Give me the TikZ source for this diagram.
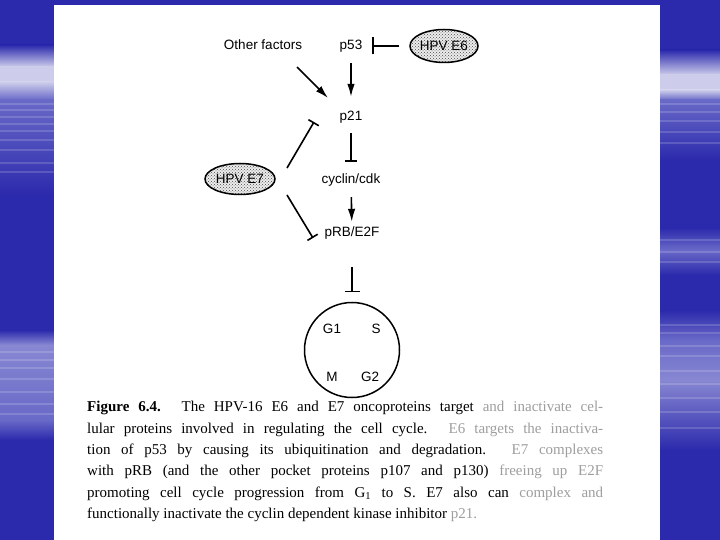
\documentclass[tikz,border=0pt]{standalone}
\usepackage{fontspec}
\setmainfont{Liberation Serif}
\setsansfont{Liberation Sans}
\usetikzlibrary{arrows.meta,shapes.geometric,patterns,calc}
\definecolor{bgblue}{RGB}{44,42,172}
\definecolor{bglight}{RGB}{205,205,235}
\definecolor{bgmid}{RGB}{105,105,200}
\definecolor{bgmidb}{RGB}{135,135,210}
\definecolor{fade}{gray}{0.62}
\begin{document}
\begin{tikzpicture}[x=1pt,y=-1pt,
  lbl/.style={font=\sffamily\fontsize{13.5}{15}\selectfont, inner sep=0pt, text height=9.7pt, text depth=2.7pt},
  hpv/.style={ellipse, draw, line width=1.5pt, minimum width=68pt, minimum height=33pt, inner sep=0pt,
    font=\sffamily\fontsize{13.5}{15}\selectfont, preaction={fill=gray!15},
    pattern=crosshatch dots, pattern color=gray!60!black},
  act/.style={line width=1.6pt, -{Latex[length=13pt,width=7.5pt]}},
  inh/.style={line width=1.6pt, -{Bar[width=12pt]}},
  streak/.style={white, line width=2pt, opacity=0.16},
  ]
\useasboundingbox (0,0) rectangle (720,540);
% background
\fill[bgblue] (0,0) rectangle (720,540);
\foreach \ya/\yb/\ca/\cb in {
  45/67/bgblue/bglight, 67/82/bglight/bglight, 82/100/bglight/bgmid,
  100/195/bgmid/bgblue, 330/345/bgblue/bgmidb, 345/420/bgmidb/bgmid, 420/440/bgmid/bgblue}
  {\shade[top color=\ca, bottom color=\cb] (0,\ya) rectangle (54,\yb);}
\foreach \ya/\yb/\ca/\cb in {
  50/75/bgblue/bglight, 75/90/bglight/bglight, 90/100/bglight/bgmid,
  100/160/bgmid/bgblue, 228/250/bgblue/bgmid, 250/275/bgmid/bgblue,
  310/340/bgblue/bgmid, 340/380/bgmid/bgmidb, 380/450/bgmidb/bgblue}
  {\shade[top color=\ca, bottom color=\cb] (660,\ya) rectangle (720,\yb);}
\foreach \y in {104,110,117,124,131,140,150,163,172}
  {\draw[streak] (0,\y) -- (54,\y);}
\foreach \y in {352,360,368,379,392,404,414}
  {\draw[streak] (0,\y) -- (54,\y);}
\foreach \y in {104,112,121,132,143,240,252,262,325,333,346,356,371,384,398,412,428}
  {\draw[streak] (660,\y) -- (720,\y);}
% white panel
\fill[white] (54,5) rectangle (660,540);

% diagram
\node[lbl] (of) at (263,46) {Other factors};
\node[lbl] (p53) at (351,46) {p53};
\node[hpv] (e6) at (444,46) {HPV E6};
\node[lbl] (p21) at (351,117) {p21};
\node[lbl] (cc) at (351,180) {cyclin/cdk};
\node[lbl] (prb) at (352,233) {pRB/E2F};
\node[hpv, minimum width=70pt, minimum height=31pt] (e7) at (240,179) {HPV E7};
\node[circle, draw, line width=1.5pt, minimum size=95pt, inner sep=0pt] (cyc) at (352,350) {};
\node[lbl] (g1) at (332,330) {G1};
\node[lbl] (s) at (376,330) {S};
\node[lbl] (m) at (332,378) {M};
\node[lbl] (g2) at (370,378) {G2};

\draw[act, shorten <=10.8pt, shorten >=13.8pt] (p53) -- (p21);
\draw[act] ([shift={(34,21)}]of.center) -- ([shift={(-23,-19)}]p21.center);
\draw[inh, -{Bar[width=17pt]}, shorten <=10pt, shorten >=10pt] (e6) -- (p53);
\draw[inh, shorten <=9.8pt, shorten >=11.8pt] (p21) -- (cc);
\draw[act, shorten <=10.8pt, shorten >=4.8pt] (cc) -- (prb);
\draw[inh, -{Bar[width=15pt]}, shorten <=27.8pt, shorten >=9.5pt] (prb) -- (cyc);
\draw[inh] ([shift={(47,-11)}]e7.center) -- ([shift={(-37,5)}]p21.center);
\draw[inh] ([shift={(47,16)}]e7.center) -- ([shift={(-39,5)}]prb.center);

% caption
\node[anchor=north west, inner sep=0pt, text width=516pt, align=justify,
  font=\fontsize{15}{21.4}\selectfont] (cap) at (87,401) {%
\textbf{Figure 6.4.} The HPV-16 E6 and E7 oncoproteins target {\color{fade}and inactivate cel-}\linebreak
lular proteins involved in regulating the cell cycle. {\color{fade}E6 targets the inactiva-}\linebreak
tion of p53 by causing its ubiquitination and degradation. {\color{fade}E7 complexes}\linebreak
with pRB (and the other pocket proteins p107 and p130) {\color{fade}freeing up E2F}\linebreak
promoting cell cycle progression from G\textsubscript{1} to S. E7 also can {\color{fade}complex and}\linebreak
functionally inactivate the cyclin dependent kinase inhibitor {\color{fade}p21.}};
\end{tikzpicture}
\end{document}
